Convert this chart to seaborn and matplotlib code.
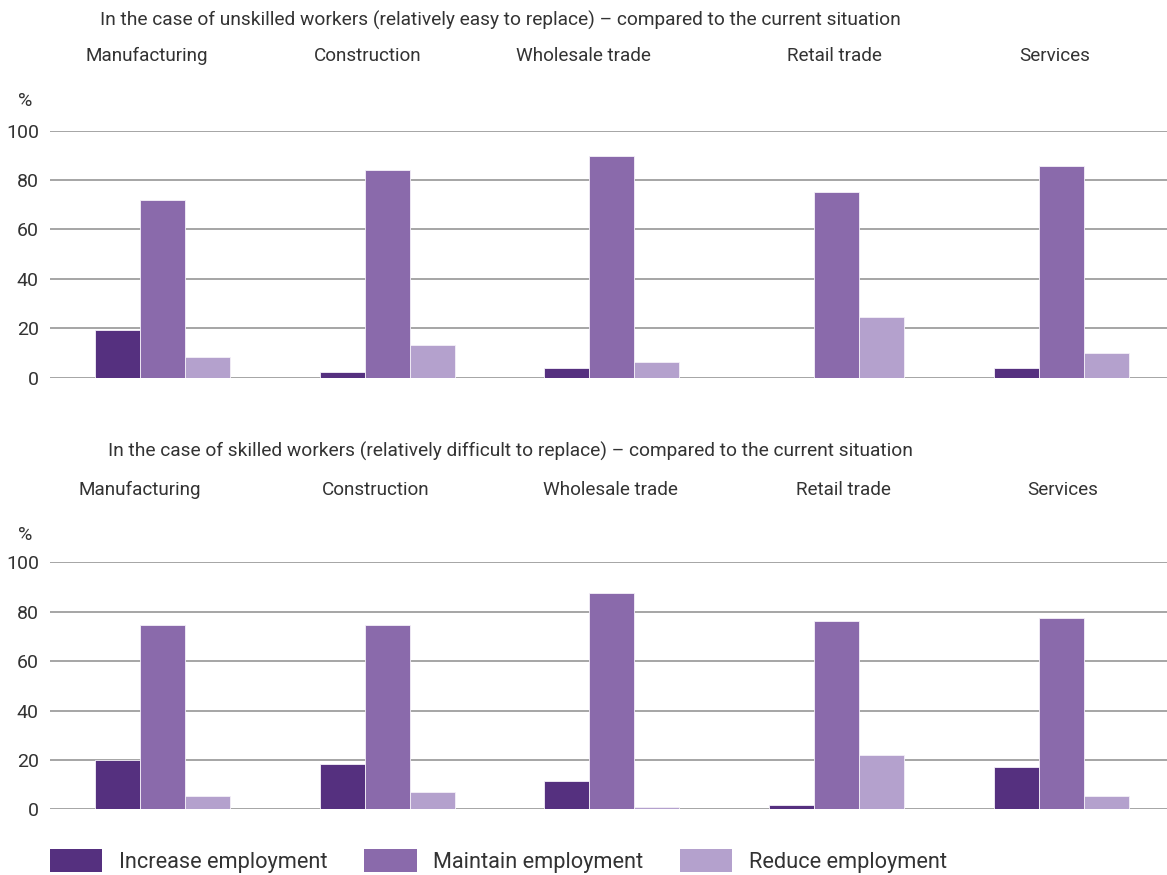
import matplotlib
matplotlib.use("Agg")
import matplotlib.pyplot as plt
from matplotlib.patches import Patch
import seaborn as sns
import pandas as pd

sectors = ["Manufacturing", "Construction", "Wholesale trade", "Retail trade", "Services"]
series = ["Increase employment", "Maintain employment", "Reduce employment"]

unskilled_increase = [19.2, 2.2, 3.8, 0.0, 3.8]
unskilled_maintain = [71.9, 84.2, 89.6, 75.3, 85.7]
unskilled_reduce = [8.5, 13.1, 6.2, 24.4, 10.1]

skilled_increase = [19.8, 18.2, 11.3, 1.9, 17.0]
skilled_maintain = [74.6, 74.5, 87.6, 76.1, 77.6]
skilled_reduce = [5.4, 6.9, 0.9, 22.1, 5.4]

titles = [
    "In the case of unskilled workers (relatively easy to replace) \u2013 compared to the current situation",
    "In the case of skilled workers (relatively difficult to replace) \u2013 compared to the current situation",
]
yticks = [0, 20, 40, 60, 80, 100]

colors = ["#55307f", "#8a6aab", "#b4a1cd"]
text_color = "#333333"

sns.set_theme(style="white")
plt.rcParams["font.family"] = ["Roboto", "DejaVu Sans"]


def make_df(inc, mai, red):
    rows = []
    for vals, s in zip([inc, mai, red], series):
        for sec, v in zip(sectors, vals):
            rows.append({"sector": sec, "series": s, "value": v})
    return pd.DataFrame(rows)


dfs = [make_df(unskilled_increase, unskilled_maintain, unskilled_reduce),
       make_df(skilled_increase, skilled_maintain, skilled_reduce)]

W, H = 1167, 875
fig = plt.figure(figsize=(W / 100, H / 100), dpi=100)

ax_left = 50 / W
ax_width = 1 - ax_left
ax_h = 247 / H
bottoms = [1 - 377.5 / H, 1 - 809.3 / H]
title_y = [20, 451]
title_x = [100, 108]
label_y = [56, 490]
pct_y = [101, 535]
# small horizontal nudges of the sector labels (in category units)
label_nudge = [[-0.07, -0.085, -0.125, -0.01, -0.03],
               [-0.10, -0.05, -0.005, 0.03, 0.005]]
xmin, xmax = -0.5, 4.47

for k in range(2):
    ax = fig.add_axes([ax_left, bottoms[k], ax_width, ax_h])
    sns.barplot(data=dfs[k], x="sector", y="value", hue="series",
                palette=colors, width=0.6, gap=0, ax=ax,
                edgecolor="#f4f0f8", linewidth=0.6, legend=False,
                saturation=1)
    ax.set_xlim(xmin, xmax)
    ax.set_ylim(0, 100)
    ax.set_yticks(yticks)
    ax.set_yticklabels([str(t) for t in yticks], fontsize=14, color=text_color)
    ax.set_xticks([])
    ax.set_xlabel("")
    ax.set_ylabel("")
    ax.tick_params(axis="y", length=0, pad=8)
    for sp in ax.spines.values():
        sp.set_visible(False)
    ax.yaxis.grid(True, color="#a5a5a5", linewidth=1.4)
    ax.set_axisbelow(True)
    # sector labels above each group
    for i, sec in enumerate(sectors):
        xf = ax_left + (i + label_nudge[k][i] - xmin) / (xmax - xmin) * ax_width
        fig.text(xf, 1 - label_y[k] / H, sec, ha="center", va="center",
                 fontsize=13.6, color=text_color)
    fig.text(title_x[k] / W, 1 - title_y[k] / H, titles[k], ha="left", va="center",
             fontsize=13.8, color=text_color)
    fig.text(25 / W, 1 - pct_y[k] / H, "%", ha="center", va="center",
             fontsize=14, color=text_color)

handles = [Patch(facecolor=c, edgecolor="none") for c in colors]
fig.legend(handles, series, loc="lower left", bbox_to_anchor=(50 / W, 2 / H),
           ncol=3, frameon=False, fontsize=15.7, handlelength=2.4, handleheight=1.25,
           handletextpad=0.75, columnspacing=1.7, borderpad=0, borderaxespad=0,
           labelcolor=text_color)

fig.savefig("out.png", dpi=100)
